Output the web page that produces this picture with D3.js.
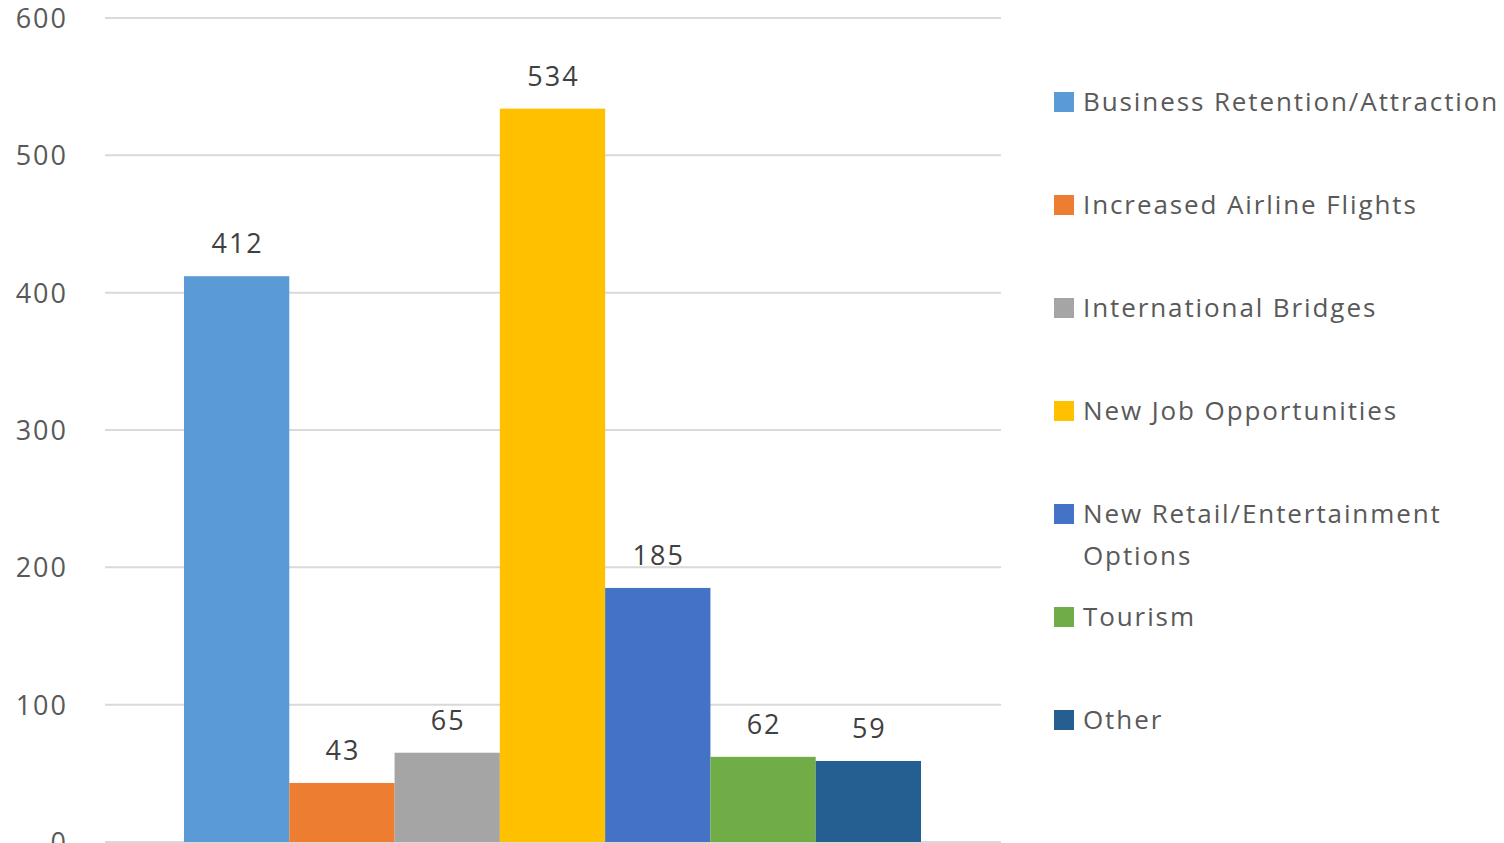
<!DOCTYPE html>
<html><head><meta charset="utf-8">
<script src="https://cdn.jsdelivr.net/npm/d3@7"></script>
<style>
html,body{margin:0;padding:0;background:#fff;overflow:hidden;}
text{font-family:"Open Sans","Noto Sans",sans-serif;}
</style></head>
<body><svg id="chart" width="1504" height="843"></svg>
<script>
const series = ["Business Retention/Attraction","Increased Airline Flights","International Bridges","New Job Opportunities","New Retail/Entertainment Options","Tourism","Other"];
const legendLines = [["Business Retention/Attraction"],["Increased Airline Flights"],["International Bridges"],["New Job Opportunities"],["New Retail/Entertainment","Options"],["Tourism"],["Other"]];
const values = [412,43,65,534,185,62,59];
const colors = ["#5b9bd5","#ed7d31","#a5a5a5","#ffc000","#4472c4","#70ad47","#255e91"];
const yTicks = [0,100,200,300,400,500,600];

const svg = d3.select("#chart");
const y = d3.scaleLinear().domain([0,600]).range([842,18]);
const x = d3.scaleBand().domain(series).range([184,921]).padding(0);
const gridL = 105, gridR = 1001;

// gridlines
svg.append("g").selectAll("line").data(yTicks).join("line")
  .attr("x1",gridL).attr("x2",gridR)
  .attr("y1",d=>y(d)).attr("y2",d=>y(d))
  .attr("stroke","#d9d9d9").attr("stroke-width",2);

// y axis labels
const yAxis = d3.axisLeft(y).tickValues(yTicks).tickSize(0).tickPadding(0);
const ga = svg.append("g").attr("transform","translate(68,1)").call(yAxis);
ga.select(".domain").remove();
ga.selectAll("text").attr("fill","#595959").style("font-size","27px")
  .style("letter-spacing","2px")
  .style("font-family",'"Open Sans","Noto Sans",sans-serif');

// bars
svg.append("g").selectAll("rect").data(series).join("rect")
  .attr("x",d=>x(d)).attr("width",x.bandwidth())
  .attr("y",(d,i)=>y(values[i])).attr("height",(d,i)=>y(0)-y(values[i]))
  .attr("fill",(d,i)=>colors[i]);

// data labels
svg.append("g").selectAll("text").data(series).join("text")
  .attr("x",d=>x(d)+x.bandwidth()/2+1)
  .attr("y",(d,i)=>y(values[i])-23)
  .attr("text-anchor","middle")
  .attr("fill","#404040").style("font-size","27px").style("letter-spacing","2px")
  .text((d,i)=>values[i]);

// legend
const lg = svg.append("g").selectAll("g").data(series).join("g")
  .attr("transform",(d,i)=>`translate(1054,${102+i*103})`);
lg.append("rect").attr("x",0).attr("y",-10).attr("width",20).attr("height",20)
  .attr("fill",(d,i)=>colors[i]);
lg.each(function(d,i){
  const t = d3.select(this).append("text").attr("x",29).attr("y",9)
    .attr("fill","#595959").style("font-size","26px").style("letter-spacing","1.9px");
  legendLines[i].forEach((l,j)=>{
    t.append("tspan").attr("x",29).attr("dy",j===0?0:42).text(l);
  });
});
</script></body></html>
